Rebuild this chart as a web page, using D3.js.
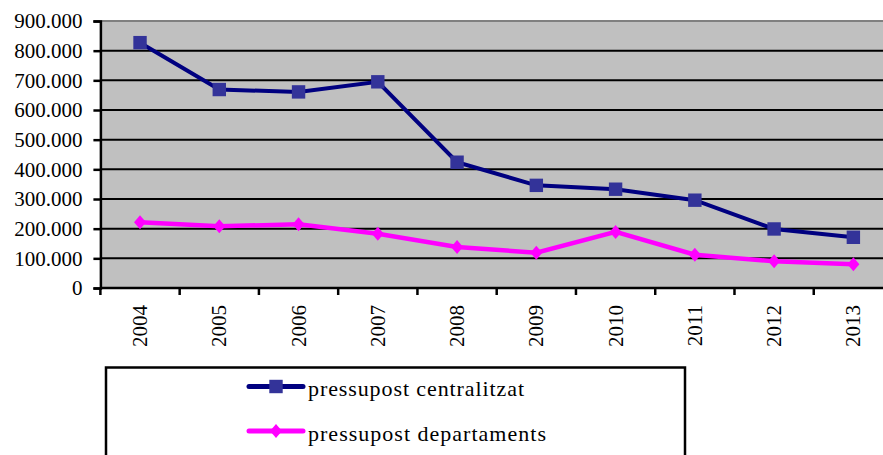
<!DOCTYPE html>
<html>
<head>
<meta charset="utf-8">
<script src="https://cdn.jsdelivr.net/npm/d3@7"></script>
<style>
  body { margin: 0; background: #fff; }
  svg { display: block; }
  svg text { font-family: 'Liberation Serif', 'DejaVu Serif', serif; }
</style>
</head>
<body>
<div id="chart"></div>
<script>
// data
const years = ['2004', '2005', '2006', '2007', '2008', '2009', '2010', '2011', '2012', '2013'];
const centralitzat = [827000, 669000, 661000, 695000, 424000, 346000, 333000, 296000, 199000, 171000];
const departaments = [222000, 208000, 215000, 183000, 138000, 119000, 189000, 112000, 90000, 80000];
const yTicks = [0, 100000, 200000, 300000, 400000, 500000, 600000, 700000, 800000, 900000];
const seriesNames = ['pressupost centralitzat', 'pressupost departaments'];

const width = 883, height = 455;
const plot = { left: 100.4, right: 893, top: 21, bottom: 288 };
const serif = "'Liberation Serif', 'DejaVu Serif', serif";

const svg = d3.select('#chart').append('svg')
	.attr('width', width)
	.attr('height', height);

const x = d3.scaleBand()
	.domain(years)
	.range([plot.left, plot.right])
	.padding(0);

const y = d3.scaleLinear()
	.domain([0, 900000])
	.range([plot.bottom, plot.top]);

const fmt = d3.formatLocale({ decimal: ',', thousands: '.', grouping: [3], currency: ['', ''] }).format(',d');

// plot background
svg.append('rect')
	.attr('x', plot.left)
	.attr('y', plot.top)
	.attr('width', plot.right - plot.left)
	.attr('height', plot.bottom - plot.top)
	.attr('fill', '#c0c0c0');

// gridlines
svg.append('g')
	.selectAll('line')
	.data(yTicks.filter(d => d > 0 && d < 900000))
	.enter().append('line')
		.attr('x1', plot.left)
		.attr('x2', plot.right)
		.attr('y1', d => y(d))
		.attr('y2', d => y(d))
		.attr('stroke', '#000')
		.attr('stroke-width', 2);

// top border of plot area
svg.append('line')
	.attr('x1', plot.left).attr('x2', plot.right)
	.attr('y1', plot.top).attr('y2', plot.top)
	.attr('stroke', '#808080')
	.attr('stroke-width', 2);

// y axis
const yAxis = svg.append('g')
	.attr('transform', 'translate(' + plot.left + ',0)')
	.call(d3.axisLeft(y).tickValues(yTicks).tickFormat(fmt).tickSize(7).tickPadding(11));
yAxis.attr('font-family', serif).attr('font-size', 21);
yAxis.select('.domain').attr('stroke', '#000').attr('stroke-width', 2.5);
yAxis.selectAll('.tick line').attr('stroke', '#000').attr('stroke-width', 2.5);
yAxis.selectAll('.tick text')
	.attr('fill', '#000')
	.style('font-size', '21px');

// x axis, ticks between categories
const xAxis = svg.append('g')
	.attr('transform', 'translate(0,' + plot.bottom + ')');
xAxis.append('line')
	.attr('x1', plot.left).attr('x2', plot.right)
	.attr('stroke', '#000').attr('stroke-width', 2.5);
xAxis.selectAll('line.tk')
	.data(years)
	.enter().append('line')
		.attr('class', 'tk')
		.attr('x1', d => x(d)).attr('x2', d => x(d))
		.attr('y1', 0).attr('y2', 7)
		.attr('stroke', '#000').attr('stroke-width', 2.5);
xAxis.selectAll('text')
	.data(years)
	.enter().append('text')
		.attr('transform', d => 'translate(' + (x(d) + x.bandwidth() / 2 + 7) + ',17) rotate(-90)')
		.attr('text-anchor', 'end')
		.style('font-size', '21px')
		.text(d => d);

// lines
const cx = d => x(d) + x.bandwidth() / 2;
const line = d3.line()
	.x(d => cx(d[0]))
	.y(d => y(d[1]));

const blueData = years.map((yr, i) => [yr, centralitzat[i]]);
const pinkData = years.map((yr, i) => [yr, departaments[i]]);

svg.append('path')
	.datum(blueData)
	.attr('d', line)
	.attr('fill', 'none')
	.attr('stroke', '#000080')
	.attr('stroke-width', 4);

svg.append('path')
	.datum(pinkData)
	.attr('d', line)
	.attr('fill', 'none')
	.attr('stroke', '#ff00ff')
	.attr('stroke-width', 4.5);

const square = d3.symbol().type(d3.symbolSquare).size(180);
const diamond = 'M0,-7L6,0L0,7L-6,0Z';

svg.append('g')
	.selectAll('path')
	.data(blueData)
	.enter().append('path')
		.attr('d', square)
		.attr('transform', d => 'translate(' + cx(d[0]) + ',' + y(d[1]) + ')')
		.attr('fill', '#333399');

svg.append('g')
	.selectAll('path')
	.data(pinkData)
	.enter().append('path')
		.attr('d', diamond)
		.attr('transform', d => 'translate(' + cx(d[0]) + ',' + y(d[1]) + ')')
		.attr('fill', '#ff00ff');

// legend
const legend = svg.append('g');
legend.append('rect')
	.attr('x', 106).attr('y', 367.5)
	.attr('width', 579).attr('height', 120)
	.attr('fill', '#fff')
	.attr('stroke', '#000')
	.attr('stroke-width', 2.5);

const legendRows = [
	{ name: seriesNames[0], color: '#000080', marker: '#333399', shape: square, y: 386.5, len: 216 },
	{ name: seriesNames[1], color: '#ff00ff', marker: '#ff00ff', shape: diamond, y: 431, len: 238 }
];
legendRows.forEach(r => {
	legend.append('line')
		.attr('x1', 249).attr('x2', 303)
		.attr('y1', r.y).attr('y2', r.y)
		.attr('stroke', r.color)
		.attr('stroke-width', 5)
		.attr('stroke-linecap', 'round');
	legend.append('path')
		.attr('d', r.shape)
		.attr('transform', 'translate(276,' + r.y + ')')
		.attr('fill', r.marker);
	legend.append('text')
		.attr('x', 308)
		.attr('y', r.y + 9.5)
		.style('font-size', '22px')
		.attr('textLength', r.len)
		.attr('lengthAdjust', 'spacing')
		.text(r.name);
});
</script>
</body>
</html>
